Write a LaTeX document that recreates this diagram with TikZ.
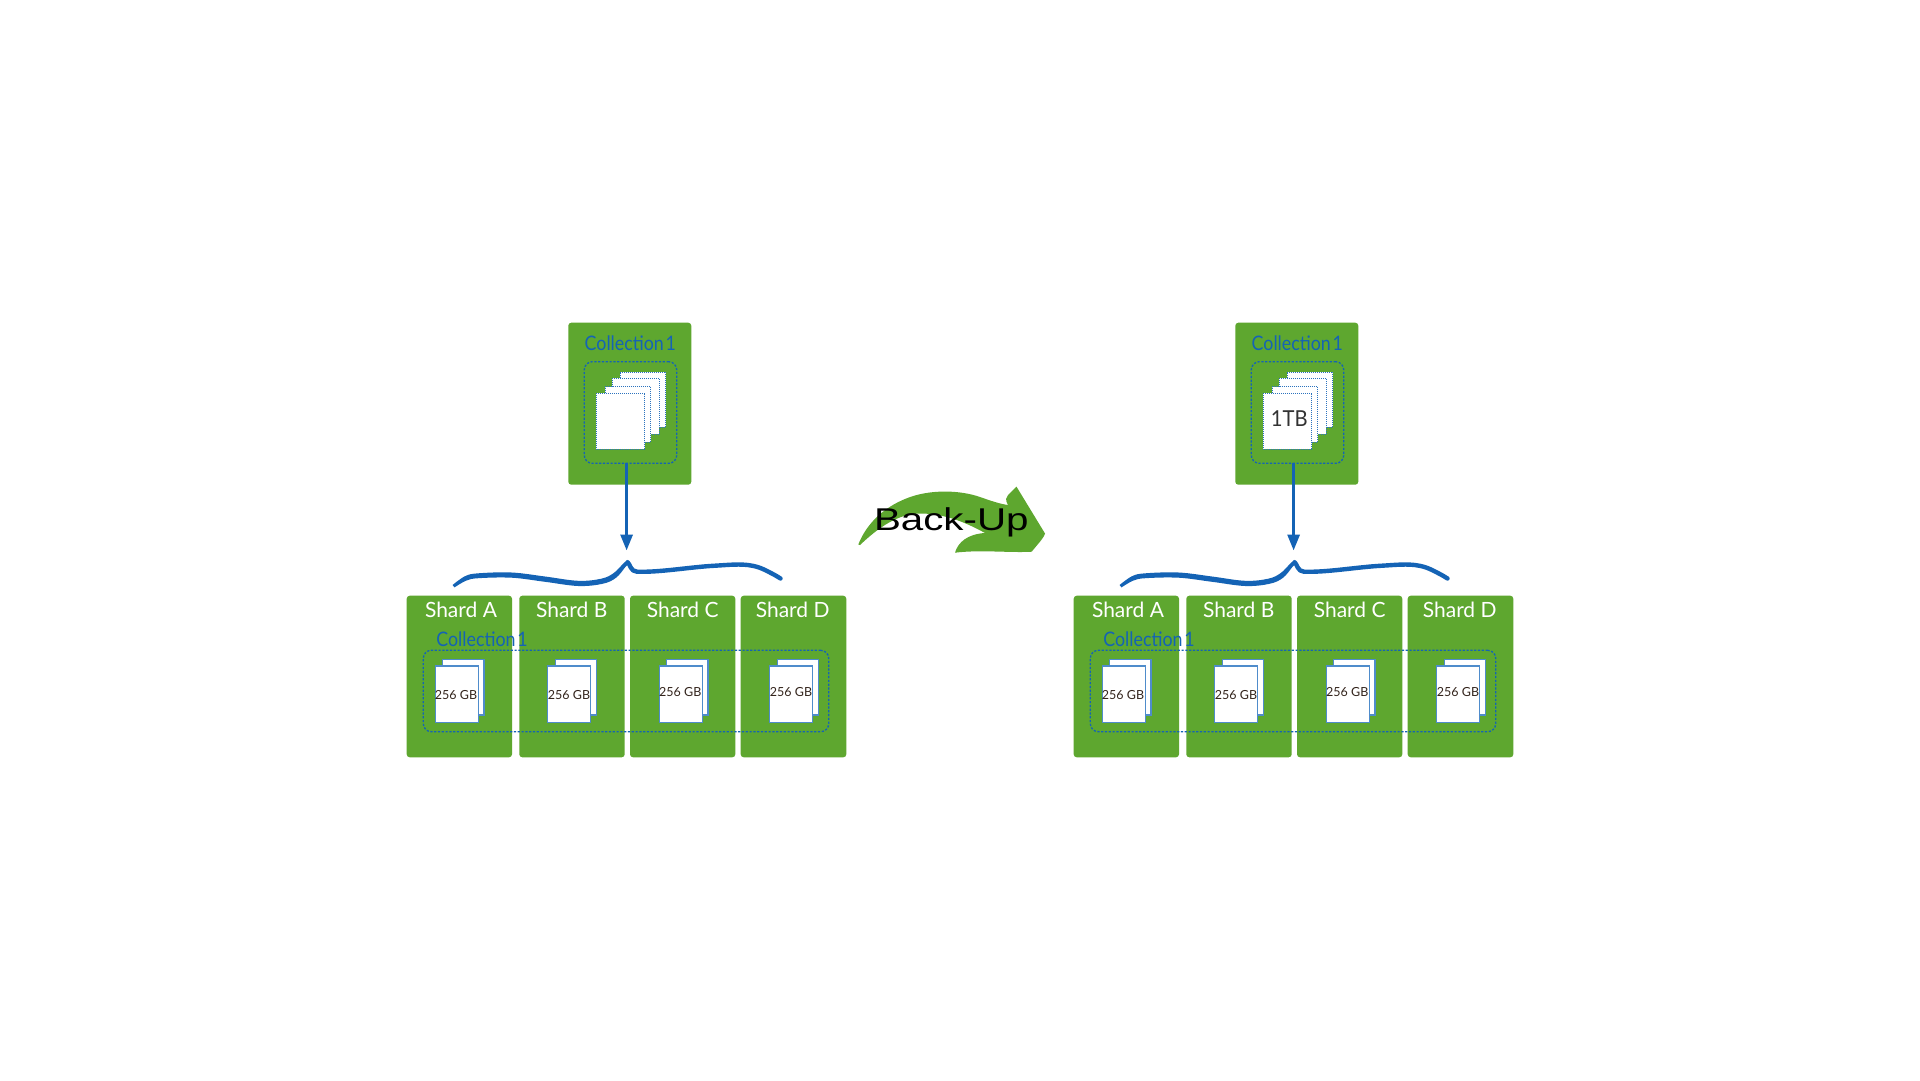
\documentclass[tikz,border=0pt]{standalone}
\usepackage{fontspec}
\setmainfont{Lato}
\newfontfamily\arrowfont{Liberation Sans}
\usetikzlibrary{arrows.meta}
\definecolor{grn}{HTML}{5EA72F}
\definecolor{blu}{HTML}{1463B5}
\definecolor{edgeblu}{HTML}{4F8CCB}
\definecolor{dotblu}{HTML}{2C73BE}
\definecolor{docink}{HTML}{33241C}
\newcommand{\tightspace}{\spaceskip=2pt\relax}
\tikzset{
  x=1pt,y=-1pt,
  box/.style={inner sep=0pt,outer sep=0pt,rectangle},
  greenbox/.style={box,fill=grn,rounded corners=3pt},
  zonebox/.style={box,draw=blu,line width=1.3pt,dash pattern=on 2.2pt off 1.6pt,rounded corners=8pt},
  dotpage/.style={box,fill=white,draw=dotblu,line width=1pt,dash pattern=on 1pt off 1pt},
  docpage/.style={box,fill=white,draw=edgeblu,line width=1.2pt},
  shardtxt/.style={inner sep=0pt,anchor=base,text=white,font=\fontsize{21}{21}\selectfont},
  colltxt/.style={inner sep=0pt,anchor=base,text=blu,xscale=.89,font=\fontsize{20}{20}\selectfont},
  sizetxt/.style={inner sep=0pt,anchor=base,text=docink,font=\fontsize{12.5}{13}\selectfont},
  linkarrow/.style={draw=blu,line width=3pt,-{Triangle[length=16pt,width=12pt]}},
  bracefill/.style={fill=blu},
  bracestroke/.style={draw=blu,line width=4.4pt,line cap=round,line join=round},
}
% name, x1, y1, x2, y2, style
\newcommand{\bx}[6]{\node[#6,minimum width={((#4)-(#2))*1pt},minimum height={((#5)-(#3))*1pt}] (#1) at ({((#2)+(#4))/2},{((#3)+(#5))/2}) {};}
% prefix, id, front left x, label x, label baseline
\newcommand{\docs}[5]{%
  \bx{#1back#2}{#3+7.4}{659.7}{#3+48.6}{715}{docpage}
  \bx{#1front#2}{#3}{666}{#3+42.8}{722.3}{docpage}
  \node[sizetxt] (#1size#2) at (#4,#5) {256 GB};
}
\newcommand{\panel}[3]{%
\begin{scope}[xshift=#2pt]
  \bx{#1coll}{568.3}{322.7}{691.3}{484.7}{greenbox}
  \node[colltxt] (#1colltitle) at (630.3,350.7) {\tightspace Collection 1};
  \bx{#1zone}{584.3}{361.7}{676.7}{463.3}{zonebox}
  \bx{#1pd}{620}{372}{665.7}{427.3}{dotpage}
  \bx{#1pc}{612}{378.3}{659.3}{434.3}{dotpage}
  \bx{#1pb}{605}{386.7}{650.7}{442.3}{dotpage}
  \bx{#1pa}{596.3}{393.3}{644.7}{449}{dotpage}
  #3
  \coordinate (#1tip) at (626.6,550.5);
  \draw[linkarrow] (#1tip|-#1zone.south) -- (#1tip);
  % curly brace
  \fill[bracefill] plot[smooth,tension=.6] coordinates {(452.6,585) (465,576.2) (478.3,573.3) (511.7,572.5) (545,576.5) (578.3,580.8) (601.7,578.6) (614,572.8) (623.5,563.3) (627.7,559.8)}
     -- plot[smooth,tension=.6] coordinates {(627.7,564.8) (625.5,566.8) (616,577.8) (602.5,583.8) (578.3,586) (545,581.8) (511.7,577.7) (478.3,578.2) (466,580.7) (454.5,587.4)} -- cycle;
  \draw[bracestroke] (627.7,562.3) .. controls (630,564) and (630.5,571.5) .. (637,571.7)
     .. controls (660,572.5) and (690,567) .. (715,565.7)
     .. controls (735,564.5) and (750,562.5) .. (765,570)
     .. controls (771,573) and (776,575.5) .. (780.5,578.5);
  % shards
  \bx{#1sa}{406.7}{595.7}{512}{757.3}{greenbox}
  \bx{#1sb}{519.3}{595.7}{624.7}{757.3}{greenbox}
  \bx{#1sc}{630}{595.7}{735.3}{757.3}{greenbox}
  \bx{#1sd}{740.7}{595.7}{846.3}{757.3}{greenbox}
  \node[shardtxt] (#1ta) at (461,617.2) {Shard A};
  \node[shardtxt] (#1tb) at (571.7,617.2) {Shard B};
  \node[shardtxt] (#1tc) at (682.7,617.2) {Shard C};
  \node[shardtxt] (#1td) at (792.7,617.2) {Shard D};
  \node[colltxt] (#1collb) at (482,646) {\tightspace Collection 1};
  \bx{#1band}{423.3}{650.3}{828.7}{731.7}{zonebox}
  \docs{#1}{a}{435.3}{456}{699.3}
  \docs{#1}{b}{547.7}{569}{699.3}
  \docs{#1}{c}{659.3}{680.3}{696}
  \docs{#1}{d}{769.7}{791}{696}
\end{scope}}
\begin{document}
\begin{tikzpicture}
\useasboundingbox (0,0) rectangle (1920,1080);
\fill[white] (0,0) rectangle (1920,1080);
\panel{l}{0}{}
\panel{r}{667}{\node[inner sep=0pt,anchor=base,text=black!80,xscale=.92,font=\fontsize{22}{22}\selectfont] (rtb) at (622.3,426.7) {1TB};}
% back-up curved arrow
\fill[grn] (858.3,544.5) .. controls (866,525) and (882,508) .. (906.7,498.3)
  .. controls (930,489) and (960,490) .. (980,497)
  .. controls (990,500.5) and (1000,504) .. (1008,505)
  .. controls (1005,500) and (1006,497) .. (1008,495)
  -- (1016.5,486.7) -- (1045,533.5)
  .. controls (1044,538) and (1036,546) .. (1031.7,551.7)
  .. controls (1010,553) and (980,549.5) .. (955,552.7)
  .. controls (958,542) and (968,534) .. (985,533)
  .. controls (965,522) and (945,514) .. (922,513.5)
  .. controls (898,513) and (878,528) .. (860,545)
  -- cycle;
\node[inner sep=0pt,anchor=base,text=black,xscale=1.28] (backup) at (951.3,530.5) {\arrowfont\fontsize{31.5}{32}\selectfont Back-Up};
\end{tikzpicture}
\end{document}
